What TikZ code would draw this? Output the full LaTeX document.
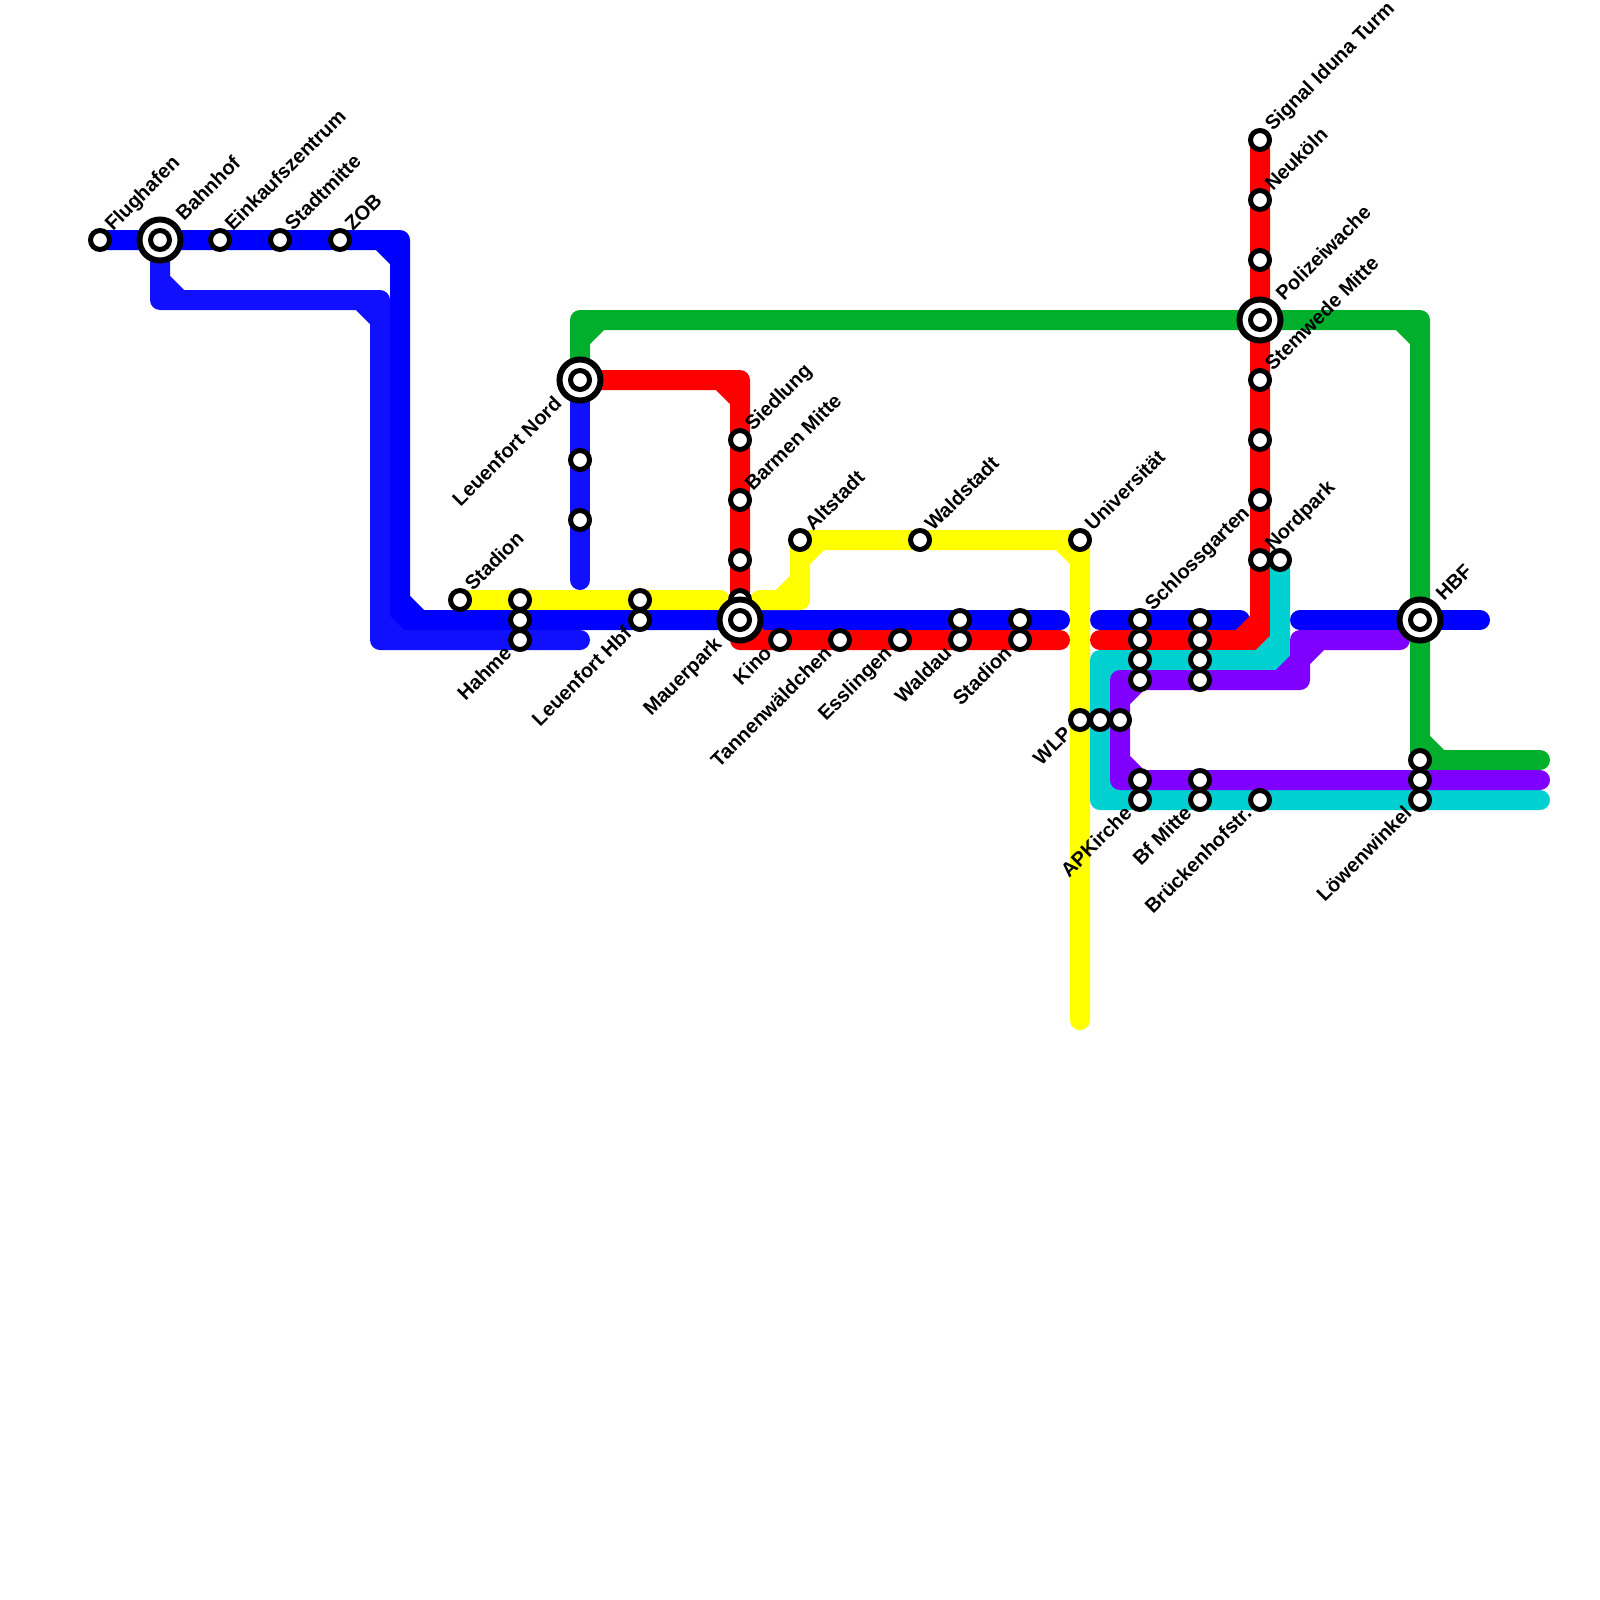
\documentclass[tikz,border=0pt]{standalone}
\usepackage{fontspec}
\setmainfont{Liberation Sans}
\usetikzlibrary{backgrounds}

\definecolor{metroblue}{RGB}{0,0,255}
\definecolor{metrolight}{RGB}{16,16,255}
\definecolor{metrogreen}{RGB}{0,176,44}
\definecolor{metroyellow}{RGB}{255,255,0}
\definecolor{metrored}{RGB}{255,0,0}
\definecolor{metroteal}{RGB}{0,208,208}
\definecolor{metropurple}{RGB}{128,0,255}

\tikzset{
    metroline/.style={line width=20pt, line join=round, line cap=round},
    stop/.style={circle, draw=black, fill=white, line width=5pt, inner sep=0pt, minimum size=19pt},
    hub/.style={circle, draw=black, fill=white, line width=6pt, inner sep=0pt, minimum size=41pt},
    tag/.style={inner sep=0pt, font=\fontsize{20}{24}\selectfont\bfseries},
    tagup/.style={tag, xshift=13pt, yshift=8pt, rotate=45, anchor=base west},
    tagdown/.style={tag, xshift=-7pt, yshift=-14.5pt, rotate=45, anchor=base east},
    hubup/.style={tag, xshift=24pt, yshift=18pt, rotate=45, anchor=base west},
    hubdown/.style={tag, xshift=-17pt, yshift=-25pt, rotate=45, anchor=base east}
}

\begin{document}
\begin{tikzpicture}[x=20pt,y=-20pt]
    \useasboundingbox (0,0) rectangle (80,80);

    % Plain stops
    \foreach \name/\x/\y in {flughafen/5/12, einkauf/11/12, stadtmitte/14/12, zob/17/12,
        stadionwest/23/30, hahmea/26/30, hahmeb/26/31, hahme/26/32,
        nordb/29/23, nordc/29/26, hbfa/32/30, hbf/32/31,
        siedlung/37/22, barmen/37/25, barmenb/37/28, mauera/37/30,
        kino/39/32, tannen/42/32, esslingen/45/32, waldaua/48/31, waldau/48/32,
        stadiona/51/31, stadion/51/32,
        altstadt/40/27, waldstadt/46/27, uni/54/27,
        wlp/54/36, wlpb/55/36, wlpc/56/36,
        schloss/57/31, schlossb/57/32, schlossc/57/33, schlossd/57/34,
        mittea/60/31, mitteb/60/32, mittec/60/33, mitted/60/34,
        kirchea/57/39, kirche/57/40, bfa/60/39, bf/60/40, bruecke/63/40,
        signal/63/7, neukoeln/63/10, turmb/63/13, stemwede/63/19,
        turmc/63/22, turmd/63/25, nordpark/63/28, nordparkb/64/28,
        loewena/71/38, loewenb/71/39, loewen/71/40}
        \node[stop] (\name) at (\x,\y) {};

    % Interchanges
    \foreach \name/\x/\y in {bahnhof/8/12, leuenfort/29/19, mauerpark/37/31,
        polizei/63/16, hauptbf/71/31} {
        \node[hub] (\name-ring) at (\x,\y) {};
        \node[stop] (\name) at (\x,\y) {};
    }

    % Free ends of the lines
    \coordinate (blueend) at (53,31);
    \coordinate (bluestart) at (55,31);
    \coordinate (blueendb) at (62,31);
    \coordinate (bluestartb) at (65,31);
    \coordinate (blueendc) at (74,31);
    \coordinate (lightend) at (29,29);
    \coordinate (lightstart) at (29,32);
    \coordinate (yellowend) at (36,30);
    \coordinate (yellowstart) at (38,30);
    \coordinate (yellowtail) at (54,51);
    \coordinate (redend) at (53,32);
    \coordinate (redstart) at (55,32);
    \coordinate (greenend) at (77,38);
    \coordinate (purpleend) at (77,39);
    \coordinate (purplestart) at (70,32);
    \coordinate (tealend) at (77,40);

    \begin{scope}[on background layer]
        % Blue main line
        \draw[metroline, metroblue] (flughafen.center) -- (20,12) -- (20,31) -- (blueend)
            (19,12) -- (20,13) (20,30) -- (21,31);
        \draw[metroline, metroblue] (bluestart) -- (blueendb);
        \draw[metroline, metroblue] (bluestartb) -- (blueendc);

        % Yellow line
        \draw[metroline, metroyellow] (stadionwest.center) -- (yellowend);
        \draw[metroline, metroyellow] (yellowstart) -- (40,30) -- (40,27) -- (54,27) -- (yellowtail)
            (39,30) -- (40,29) (40,28) -- (41,27) (53,27) -- (54,28);

        % Green line
        \draw[metroline, metrogreen] (leuenfort.center) -- (29,16) -- (71,16) -- (71,38) -- (greenend)
            (29,17) -- (30,16) (70,16) -- (71,17) (71,37) -- (72,38);

        % Red line
        \draw[metroline, metrored] (leuenfort.center) -- (37,19) -- (37,32) -- (redend)
            (36,19) -- (37,20) (37,31) -- (38,32);
        \draw[metroline, metrored] (redstart) -- (63,32) -- (signal.center)
            (62,32) -- (63,31);

        % Second blue line
        \draw[metroline, metrolight] (leuenfort.center) -- (lightend);
        \draw[metroline, metrolight] (lightstart) -- (19,32) -- (19,15) -- (8,15) -- (bahnhof.center)
            (19,31) -- (20,32) (18,15) -- (19,16) (8,14) -- (9,15);

        % Teal line
        \draw[metroline, metroteal] (nordparkb.center) -- (64,33) -- (55,33) -- (55,40) -- (tealend)
            (63,33) -- (64,32) (55,34) -- (56,33) (55,39) -- (56,40);

        % Purple line
        \draw[metroline, metropurple] (purplestart) -- (65,32) -- (65,34) -- (56,34) -- (56,39) -- (purpleend)
            (65,33) -- (66,32) (64,34) -- (65,33) (56,35) -- (57,34) (56,38) -- (57,39);
    \end{scope}

    % Names above the lines
    \foreach \name/\txt in {flughafen/Flughafen, einkauf/Einkaufszentrum, stadtmitte/Stadtmitte,
        zob/ZOB, stadionwest/Stadion, siedlung/Siedlung, barmen/Barmen Mitte, altstadt/Altstadt,
        waldstadt/Waldstadt, uni/Universität, schloss/Schlossgarten, signal/Signal Iduna Turm,
        neukoeln/Neuköln, stemwede/Stemwede Mitte, nordpark/Nordpark}
        \node[tagup] (\name-tag) at (\name) {\txt};

    % Names below the lines
    \foreach \name/\txt in {hahme/Hahme, hbf/Leuenfort Hbf, kino/Kino, tannen/Tannenwäldchen,
        esslingen/Esslingen, waldau/Waldau, stadion/Stadion, wlp/WLP, kirche/APKirche,
        bf/Bf Mitte, bruecke/Brückenhofstr., loewen/Löwenwinkel}
        \node[tagdown] (\name-tag) at (\name) {\txt};

    % Names at the interchanges
    \foreach \name/\txt in {bahnhof/Bahnhof, polizei/Polizeiwache, hauptbf/HBF}
        \node[hubup] (\name-tag) at (\name) {\txt};
    \foreach \name/\txt in {leuenfort/Leuenfort Nord, mauerpark/Mauerpark}
        \node[hubdown] (\name-tag) at (\name) {\txt};
\end{tikzpicture}
\end{document}
